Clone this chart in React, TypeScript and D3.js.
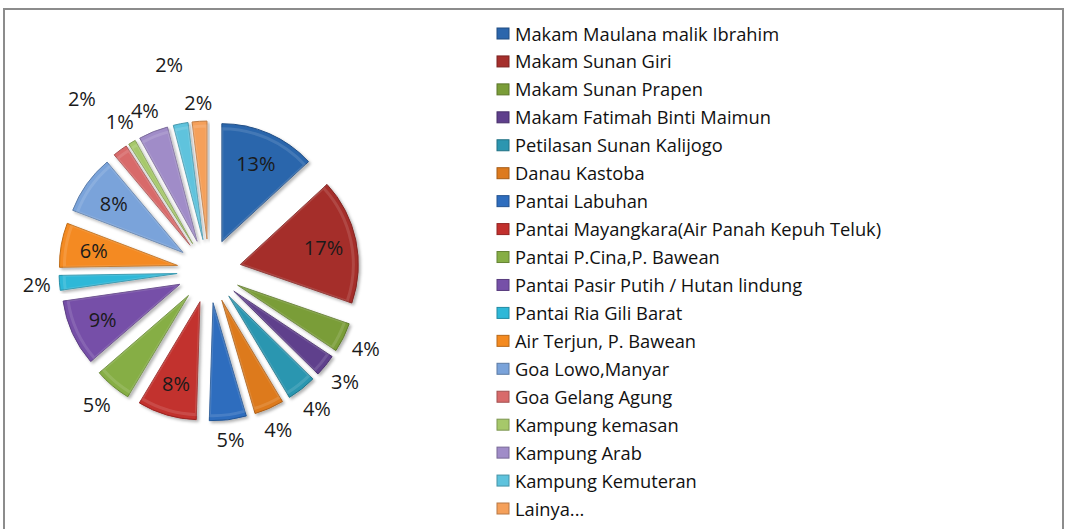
import * as d3 from "d3"
import React, { useEffect, useRef } from "react"

// Wisata categories, as listed in the legend (clockwise from 12 o'clock)
const categories = [
    "Makam Maulana malik Ibrahim",
    "Makam Sunan Giri",
    "Makam Sunan Prapen",
    "Makam Fatimah Binti Maimun",
    "Petilasan Sunan Kalijogo",
    "Danau Kastoba",
    "Pantai Labuhan",
    "Pantai Mayangkara(Air Panah Kepuh Teluk)",
    "Pantai P.Cina,P. Bawean",
    "Pantai Pasir Putih / Hutan lindung",
    "Pantai Ria Gili Barat",
    "Air Terjun, P. Bawean",
    "Goa Lowo,Manyar",
    "Goa Gelang Agung",
    "Kampung kemasan",
    "Kampung Arab",
    "Kampung Kemuteran",
    "Lainya...",
]
const values = [13, 17, 4, 3, 4, 4, 5, 8, 5, 9, 2, 6, 8, 2, 1, 4, 2, 2]
const colors = [
    "#2c66ac", "#a52f2c", "#7a9d38", "#5f3f8c", "#2c96b0", "#dd7a1e",
    "#2e6dbe", "#c2302d", "#86ae45", "#7650a8", "#2fb8d8", "#f48a20",
    "#7aa3da", "#d86a6a", "#a6c86a", "#a08cc8", "#5ec3dd", "#f5a05a",
]

const W = 1066
const H = 529
const FONT = "'Open Sans', Lato, sans-serif"

const App = () => {
    const refSvg = useRef<SVGSVGElement>(null)

    useEffect(() => {
        const svg = d3.select(refSvg.current)
        svg.selectAll("*").remove()

        // chart area border (bottom edge falls outside the picture)
        svg.append("rect")
            .attr("x", 4).attr("y", 9)
            .attr("width", 1059).attr("height", 540)
            .attr("fill", "#fff")
            .attr("stroke", "#8c8c8c")
            .attr("stroke-width", 2)

        const defs = svg.append("defs")
        const shadow = defs.append("filter").attr("id", "shadow")
            .attr("x", "-20%").attr("y", "-20%").attr("width", "140%").attr("height", "140%")
        shadow.append("feDropShadow")
            .attr("dx", 2).attr("dy", 2).attr("stdDeviation", 1.5)
            .attr("flood-color", "#000").attr("flood-opacity", 0.3)

        // pie geometry
        const cx = 209, cy = 271
        const radius = 118
        const explode = 32
        const total = d3.sum(values)

        const pie = d3.pie<number>().sort(null).value(d => d)
        const arcs = pie(values)
        const arc = d3.arc<d3.PieArcDatum<number>>().innerRadius(0).outerRadius(radius)

        const gPie = svg.append("g").attr("transform", `translate(${cx}, ${cy})`)

        const mid = (a: d3.PieArcDatum<number>) => (a.startAngle + a.endAngle) / 2
        const apex = (a: d3.PieArcDatum<number>) => {
            const m = mid(a)
            return [Math.sin(m) * explode, -Math.cos(m) * explode]
        }

        gPie.selectAll(".slice")
            .data(arcs)
            .join("path")
            .attr("class", "slice")
            .attr("transform", d => `translate(${apex(d)[0]}, ${apex(d)[1]})`)
            .attr("d", arc)
            .attr("fill", (d, i) => colors[i])
            .attr("stroke", (d, i) => d3.color(colors[i])!.darker(0.7).formatHex())
            .attr("stroke-width", 1)
            .attr("stroke-linejoin", "round")
            .attr("filter", "url(#shadow)")

        // soft highlight along the inner part of each slice, bevel-ish
        gPie.selectAll(".shine")
            .data(arcs)
            .join("path")
            .attr("class", "shine")
            .attr("transform", d => `translate(${apex(d)[0]}, ${apex(d)[1]})`)
            .attr("d", d3.arc<d3.PieArcDatum<number>>().innerRadius(0).outerRadius(radius - 5))
            .attr("fill", "none")
            .attr("stroke", "#fff")
            .attr("stroke-opacity", 0.12)
            .attr("stroke-width", 3)

        // data labels
        const pct = values.map(v => Math.round(v / total * 100))
        const labels = gPie.selectAll(".lbl")
            .data(arcs)
            .join("text")
            .attr("class", "lbl")
            .attr("text-anchor", "middle")
            .attr("dominant-baseline", "central")
            .attr("font-family", FONT)
            .attr("font-size", 20)
            .attr("fill", "#1a1a1a")
            .text((d, i) => pct[i] + "%")

        const widths = labels.nodes().map(n => (n as SVGTextElement).getComputedTextLength())
        const boxH = 20
        type Box = { x: number, y: number, w: number }
        const pos: Box[] = []
        const placed: number[] = []
        // elliptical test: close neighbours collide, diagonal ones pass
        const overlaps = (a: Box, b: Box) => {
            const ex = (a.x - b.x) / ((a.w + b.w) / 2)
            const ey = (a.y - b.y) / boxH
            return ex * ex + ey * ey < 1
        }

        // place from last to first, bumping a label outward if it hits one already placed
        for (let k = arcs.length - 1; k >= 0; k--) {
            const a = arcs[k]
            const m = mid(a)
            const s = Math.sin(m), c = -Math.cos(m)
            const [ax, ay] = apex(a)
            if (pct[k] >= 6) {
                pos[k] = { x: ax + s * radius * 0.72, y: ay + c * radius * 0.72, w: widths[k] }
                continue
            }
            const half = Math.abs(s) * widths[k] / 2 + Math.abs(c) * boxH / 2
            let dist = radius + 8 + half
            let p = { x: ax + s * dist, y: ay + c * dist, w: widths[k] }
            let tries = 0
            while (placed.some(j => overlaps(p, pos[j])) && tries < 4) {
                dist += 40
                p = { x: ax + s * dist, y: ay + c * dist, w: widths[k] }
                tries++
            }
            pos[k] = p
            placed.push(k)
        }
        labels.attr("x", (d, i) => pos[i].x).attr("y", (d, i) => pos[i].y)

        // legend
        const yLegend = d3.scalePoint<string>().domain(categories).range([33, 508])
        const gLegend = svg.append("g").attr("class", "legend")
        const rows = gLegend.selectAll(".row")
            .data(categories)
            .join("g")
            .attr("class", "row")
            .attr("transform", d => `translate(497, ${yLegend(d)})`)
        rows.append("rect")
            .attr("x", 0).attr("y", -5)
            .attr("width", 12).attr("height", 11)
            .attr("fill", (d, i) => colors[i])
            .attr("stroke", (d, i) => d3.color(colors[i])!.darker(0.8).formatHex())
            .attr("stroke-width", 1)
        rows.append("text")
            .attr("x", 18)
            .attr("y", 0)
            .attr("dominant-baseline", "central")
            .attr("font-family", FONT)
            .attr("font-size", 18.3)
            .attr("fill", "#111")
            .text(d => d)
    }, [])

    return (
        <svg ref={refSvg} width={W} height={H}
            style={{ position: "absolute", left: 0, top: 0, background: "#fff" }} />
    )
}

export default App
